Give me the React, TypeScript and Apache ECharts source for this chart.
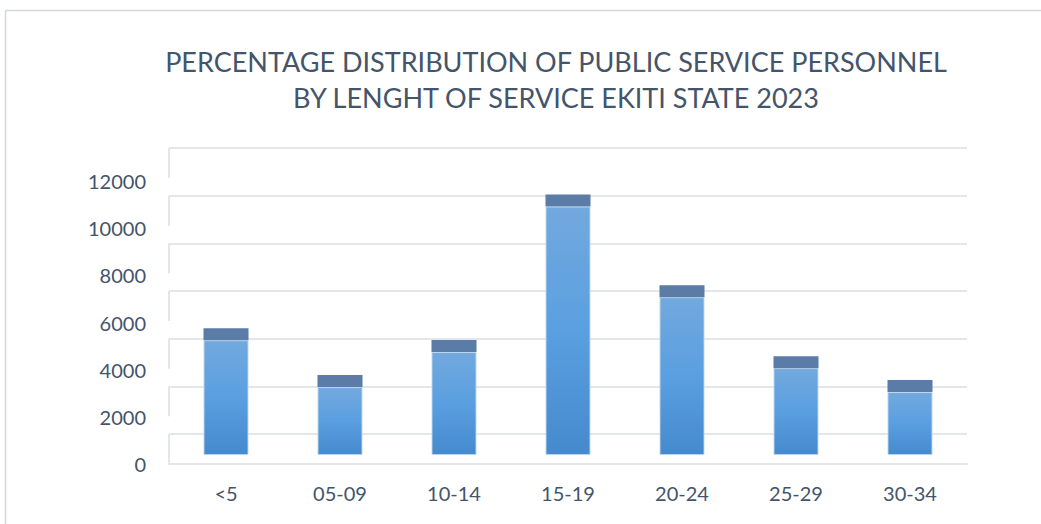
import React, { useEffect, useRef } from "react";
import * as echarts from "echarts";

const titleLines = [
  "PERCENTAGE DISTRIBUTION OF PUBLIC SERVICE PERSONNEL",
  "BY LENGHT OF SERVICE EKITI STATE 2023",
];
const categories = ["<5", "05-09", "10-14", "15-19", "20-24", "25-29", "30-34"];
const values = [4850, 2870, 4350, 10500, 6670, 3670, 2660];
const yTicks = [0, 2000, 4000, 6000, 8000, 10000, 12000];
const yMin = 0;
const yMax = 12000;
const yInterval = 2000;

const FONT = "Lato, 'Open Sans', sans-serif";
const TEXT_COLOR = "#44546A";
const GRID_COLOR = "#e3e6ea";
const BORDER_COLOR = "#d3d8de";
const SIDE_DEPTH = 30;
const BAR_W = 45;
const CAP_H = 12;

export default function App() {
  const ref = useRef<HTMLDivElement>(null);
  useEffect(() => {
    if (!ref.current) return;
    const chart = echarts.init(ref.current, undefined, { renderer: "svg" });
    const gridBase = { left: 169, right: 74 };
    const catAxis = (gi: number, show: boolean) => ({
      type: "category",
      gridIndex: gi,
      data: categories,
      show,
      axisTick: { show: false },
      axisLine: { show, lineStyle: { color: GRID_COLOR, width: 2 } },
      axisLabel: {
        show,
        color: TEXT_COLOR,
        fontFamily: FONT,
        fontSize: 20,
        margin: 19,
      },
    });
    const valAxis = (gi: number, labels: boolean, split: boolean) => ({
      type: "value",
      gridIndex: gi,
      min: yMin,
      max: yMax,
      interval: yInterval,
      axisLine: { show: false },
      axisTick: { show: false },
      axisLabel: {
        show: labels,
        color: TEXT_COLOR,
        fontFamily: FONT,
        fontSize: 20,
        margin: 23,
        formatter: (v: number) => String(v),
      },
      splitLine: { show: split, lineStyle: { color: GRID_COLOR, width: 2 } },
    });
    chart.setOption({
      animation: false,
      backgroundColor: "#ffffff",
      title: {
        text: titleLines.join("\n"),
        left: 551,
        textAlign: "center",
        top: 38,
        textStyle: {
          color: TEXT_COLOR,
          fontFamily: FONT,
          fontSize: 27,
          fontWeight: "normal",
          lineHeight: 36,
        },
      },
      graphic: [
        {
          type: "line",
          shape: { x1: 5.5, y1: 10.5, x2: 5.5, y2: 524 },
          style: { stroke: BORDER_COLOR, lineWidth: 1.5 },
          silent: true,
        },
        {
          type: "line",
          shape: { x1: 5.5, y1: 10.5, x2: 1041, y2: 10.5 },
          style: { stroke: BORDER_COLOR, lineWidth: 1.5 },
          silent: true,
        },
      ],
      grid: [
        { ...gridBase, top: 181, bottom: 60 },
        { ...gridBase, top: 148, bottom: 90 },
        { ...gridBase, top: 171, bottom: 69 },
      ],
      xAxis: [catAxis(0, true), catAxis(1, false), catAxis(2, false)],
      yAxis: [valAxis(0, true, false), valAxis(1, false, true), valAxis(2, false, false)],
      series: [
        {
          type: "custom",
          xAxisIndex: 1,
          yAxisIndex: 1,
          data: yTicks.map((v) => [0, v]),
          silent: true,
          renderItem: (params: any, api: any) => {
            const p = api.coord([0, api.value(1)]);
            const band = api.size([1, 0])[0];
            const x = p[0] - band / 2;
            return {
              type: "line",
              shape: { x1: x, y1: p[1], x2: x, y2: p[1] + SIDE_DEPTH },
              style: { stroke: GRID_COLOR, lineWidth: 2 },
            };
          },
        },
        {
          type: "bar",
          xAxisIndex: 2,
          yAxisIndex: 2,
          data: values,
          barWidth: BAR_W,
          itemStyle: {
            color: new echarts.graphic.LinearGradient(0, 0, 0, 1, [
              { offset: 0, color: "#72a9de" },
              { offset: 0.5, color: "#5a9fe0" },
              { offset: 1, color: "#468ace" },
            ]),
            borderColor: "rgba(190,215,240,0.9)",
            borderWidth: 1,
          },
        },
        {
          type: "custom",
          xAxisIndex: 2,
          yAxisIndex: 2,
          data: values.map((v, i) => [i, v]),
          silent: true,
          z: 3,
          renderItem: (params: any, api: any) => {
            const p = api.coord([api.value(0), api.value(1)]);
            return {
              type: "rect",
              shape: { x: p[0] - BAR_W / 2, y: p[1] - CAP_H, width: BAR_W, height: CAP_H },
              style: { fill: "#5a7ca6" },
            };
          },
        },
      ],
    });
    return () => chart.dispose();
  }, []);
  return (
    <div
      ref={ref}
      style={{ position: "fixed", left: 0, top: 0, width: 1041, height: 524 }}
    />
  );
}
